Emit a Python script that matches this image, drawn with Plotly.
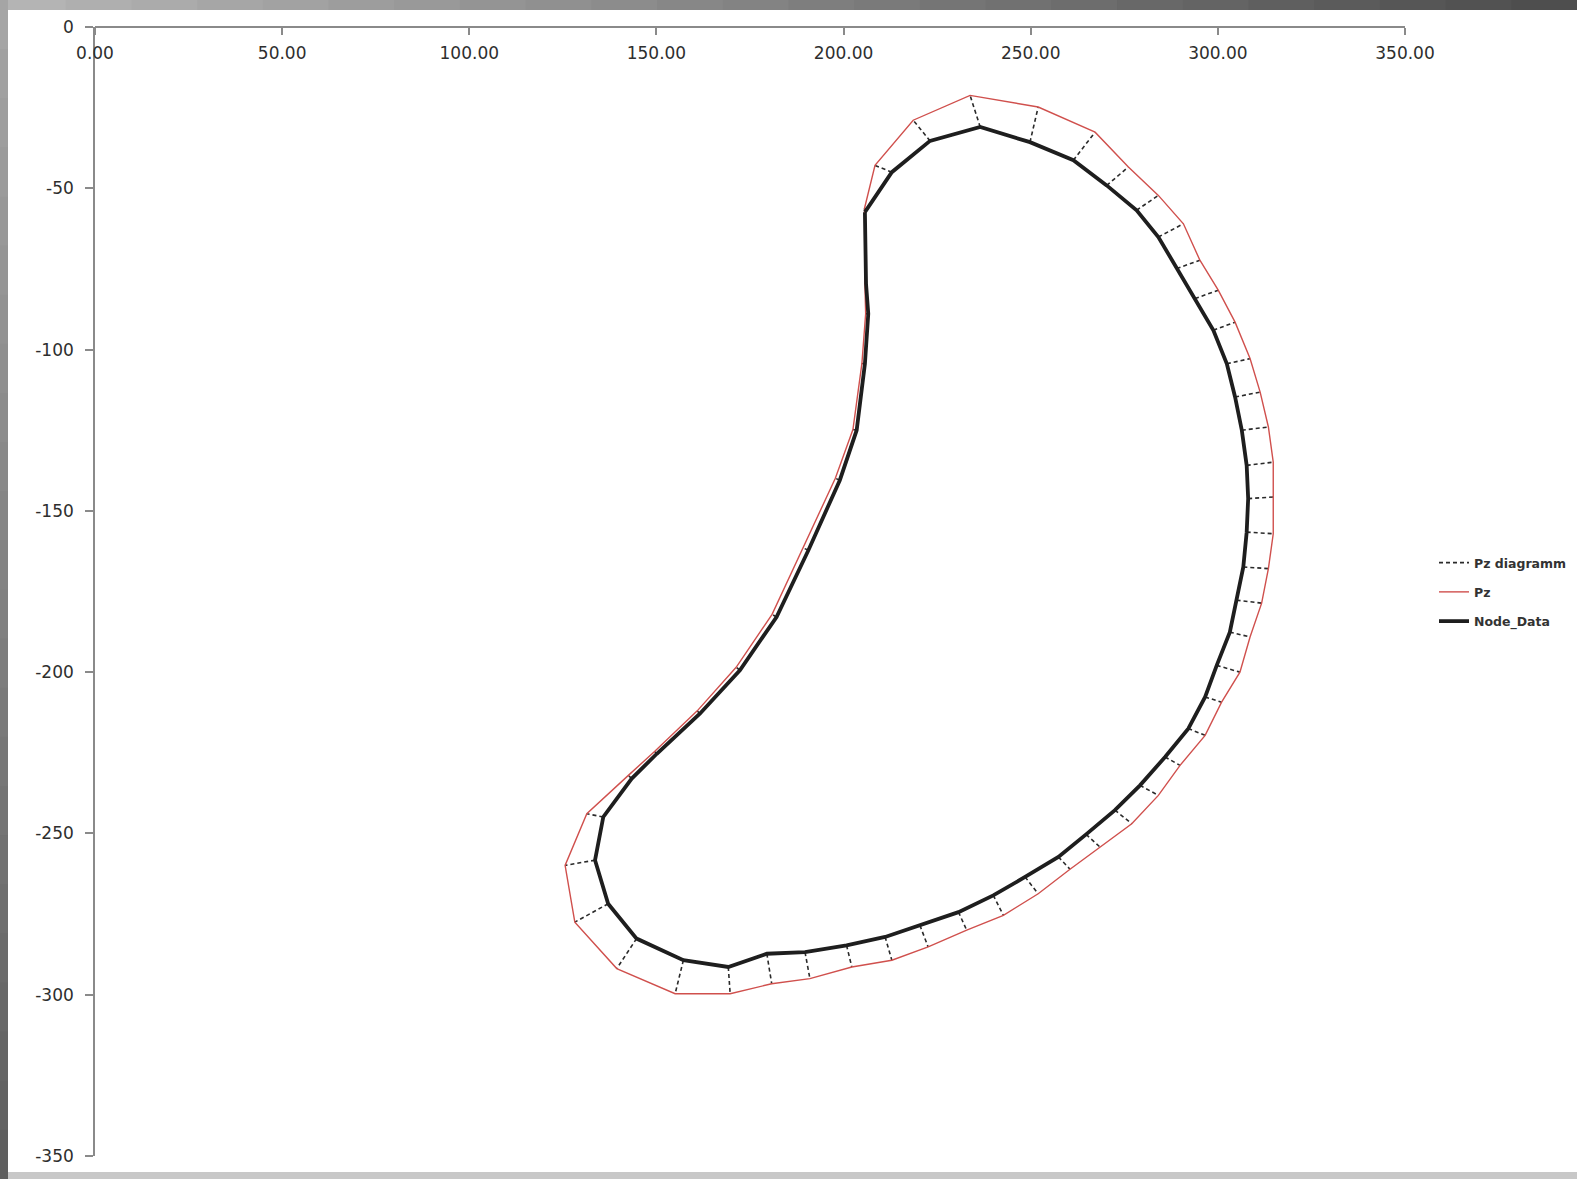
import plotly.graph_objects as go

# ---- data ----
node_x = [205.7, 212.9, 223.1, 236.5, 249.8, 261.4, 270.3, 278.3, 284.1, 289.0,
          293.9, 298.8, 302.4, 304.6, 306.4, 307.7, 308.1, 307.7, 306.8, 305.0,
          303.2, 299.7, 296.6, 292.1, 285.9, 279.2, 272.5, 264.8, 257.4, 248.5,
          240.0, 230.7, 220.4, 211.1, 200.8, 189.7, 179.5, 169.2, 157.2, 144.7,
          137.1, 133.6, 135.8, 143.4, 150.1, 161.6, 172.3, 182.1, 190.6, 199.0,
          203.5, 205.7, 206.6, 206.0]
node_y = [-57.4, -45.0, -35.3, -31.0, -35.7, -41.3, -49.1, -56.8, -65.1, -74.9,
          -84.2, -94.0, -104.4, -114.7, -125.0, -135.9, -146.2, -156.6, -167.4, -177.7,
          -187.6, -197.9, -207.7, -217.5, -226.3, -235.1, -242.8, -250.3, -257.3, -263.5,
          -269.2, -274.4, -278.5, -282.1, -284.7, -286.8, -287.3, -291.4, -289.3, -282.6,
          -271.8, -258.3, -244.9, -233.0, -225.3, -212.9, -199.4, -182.9, -162.2, -140.5,
          -125.0, -104.4, -88.9, -79.6]
pz_x = [205.6, 208.4, 218.6, 233.8, 252.0, 267.2, 276.1, 284.1, 290.8, 295.2,
        300.1, 304.6, 308.6, 311.3, 313.5, 314.8, 314.8, 314.8, 313.5, 311.7,
        308.6, 305.9, 301.0, 296.6, 289.9, 284.1, 277.0, 268.5, 260.5, 252.0,
        242.7, 232.9, 222.6, 212.9, 202.2, 191.0, 180.8, 169.7, 155.0, 139.4,
        128.2, 125.6, 131.4, 142.5, 149.5, 160.9, 171.3, 180.9, 189.2, 197.8,
        202.5, 204.9, 205.9, 205.7]
pz_y = [-56.2, -42.9, -28.9, -21.2, -24.8, -32.6, -43.4, -52.2, -61.0, -72.3,
        -81.6, -91.5, -102.8, -113.2, -124.0, -134.9, -145.7, -157.1, -167.9, -178.6,
        -189.1, -200.0, -209.3, -219.6, -228.9, -238.2, -247.0, -254.2, -261.1, -268.7,
        -275.4, -280.0, -285.2, -289.3, -291.4, -295.0, -296.6, -299.7, -299.7, -291.9,
        -277.5, -259.9, -243.9, -232.0, -224.6, -212.0, -198.5, -182.1, -161.5, -139.9,
        -124.8, -104.3, -88.9, -79.5]

x_ticks = [0, 50, 100, 150, 200, 250, 300, 350]
y_ticks = [0, -50, -100, -150, -200, -250, -300, -350]
y_tick_text = ["0", "-50", "-100", "-150", "-200", "-250", "-300", "-350"]

# ---- figure geometry (pixels) ----
W, H = 1577, 1179
ML, MR, MT, MB = 95, 172, 27, 23
PW, PH = W - ML - MR, H - MT - MB


def xp(px):
    return (px - ML) / PW


def yp(py):
    return (H - MB - py) / PH


# dashed connectors node -> Pz
dx, dy = [], []
for a, b, c, d in zip(node_x, node_y, pz_x, pz_y):
    dx += [a, c, None]
    dy += [b, d, None]

fig = go.Figure()
fig.add_trace(go.Scatter(x=dx, y=dy, mode="lines", name="Pz diagramm",
                         legendgroup="g1",
                         line=dict(color="#2a2a2a", width=1.6, dash="4px,3px")))
fig.add_trace(go.Scatter(x=pz_x + pz_x[:1], y=pz_y + pz_y[:1], mode="lines",
                         name="Pz", legendgroup="g2",
                         line=dict(color="#d0504d", width=1.4)))
fig.add_trace(go.Scatter(x=node_x + node_x[:1], y=node_y + node_y[:1],
                         mode="lines", name="Node_Data", legendgroup="g3",
                         line=dict(color="#1e1e1e", width=3.8)))

# frame: gray border with gradient, white chart area
shapes = []
n = 24
for i in range(n):
    t = i / (n - 1)
    g = int(180 - t * (180 - 78))
    shapes.append(dict(type="rect", xref="paper", yref="paper", layer="below",
                       x0=xp(i * W / n), x1=xp((i + 1) * W / n + 1),
                       y0=yp(10), y1=yp(0), line_width=0,
                       fillcolor=f"rgb({g},{g},{g})"))
for i in range(n):
    t = i / (n - 1)
    g = int(165 - t * (165 - 95))
    shapes.append(dict(type="rect", xref="paper", yref="paper", layer="below",
                       x0=xp(0), x1=xp(8),
                       y0=yp((i + 1) * H / n + 1), y1=yp(i * H / n),
                       line_width=0, fillcolor=f"rgb({g},{g},{g})"))
shapes.append(dict(type="rect", xref="paper", yref="paper", layer="below",
                   x0=xp(8), x1=xp(W), y0=yp(H), y1=yp(1172),
                   line_width=0, fillcolor="rgb(200,200,200)"))
shapes.append(dict(type="rect", xref="paper", yref="paper", layer="below",
                   x0=xp(8), x1=xp(W), y0=yp(1172), y1=yp(10),
                   line_width=0, fillcolor="white"))

axis_font = dict(family="DejaVu Sans", size=17, color="#2e2e2e")

fig.update_layout(
    width=W, height=H,
    margin=dict(l=ML, r=MR, t=MT, b=MB, pad=0, autoexpand=False),
    paper_bgcolor="rgb(140,140,140)",
    plot_bgcolor="rgba(0,0,0,0)",
    shapes=shapes,
    showlegend=True,
    legend=dict(x=xp(1434), y=yp(548), xanchor="left", yanchor="top",
                traceorder="grouped", tracegroupgap=10,
                bgcolor="rgba(0,0,0,0)",
                font=dict(family="DejaVu Sans", size=12.5, color="#333333",
                          weight="bold")),
    xaxis=dict(range=[0, 350], tickvals=x_ticks, tickformat=".2f",
               anchor="free", position=1, side="bottom",
               showline=True, linecolor="#8a8a8a", linewidth=1.6,
               ticks="outside", ticklen=7, tickcolor="#8a8a8a", tickwidth=1.5,
               showgrid=False, zeroline=False, tickfont=axis_font,
               ticklabelstandoff=4, automargin=False),
    yaxis=dict(range=[-350, 0], tickvals=y_ticks, ticktext=y_tick_text,
               showline=True, linecolor="#8a8a8a", linewidth=1.6,
               ticks="outside", ticklen=8, tickcolor="#8a8a8a", tickwidth=1.5,
               showgrid=False, zeroline=False, tickfont=axis_font,
               ticklabelstandoff=8, automargin=False),
)

fig.write_html("out.html",
               config={"displayModeBar": False},
               post_script="document.body.style.margin='0';"
                           "document.body.style.overflow='hidden';")
